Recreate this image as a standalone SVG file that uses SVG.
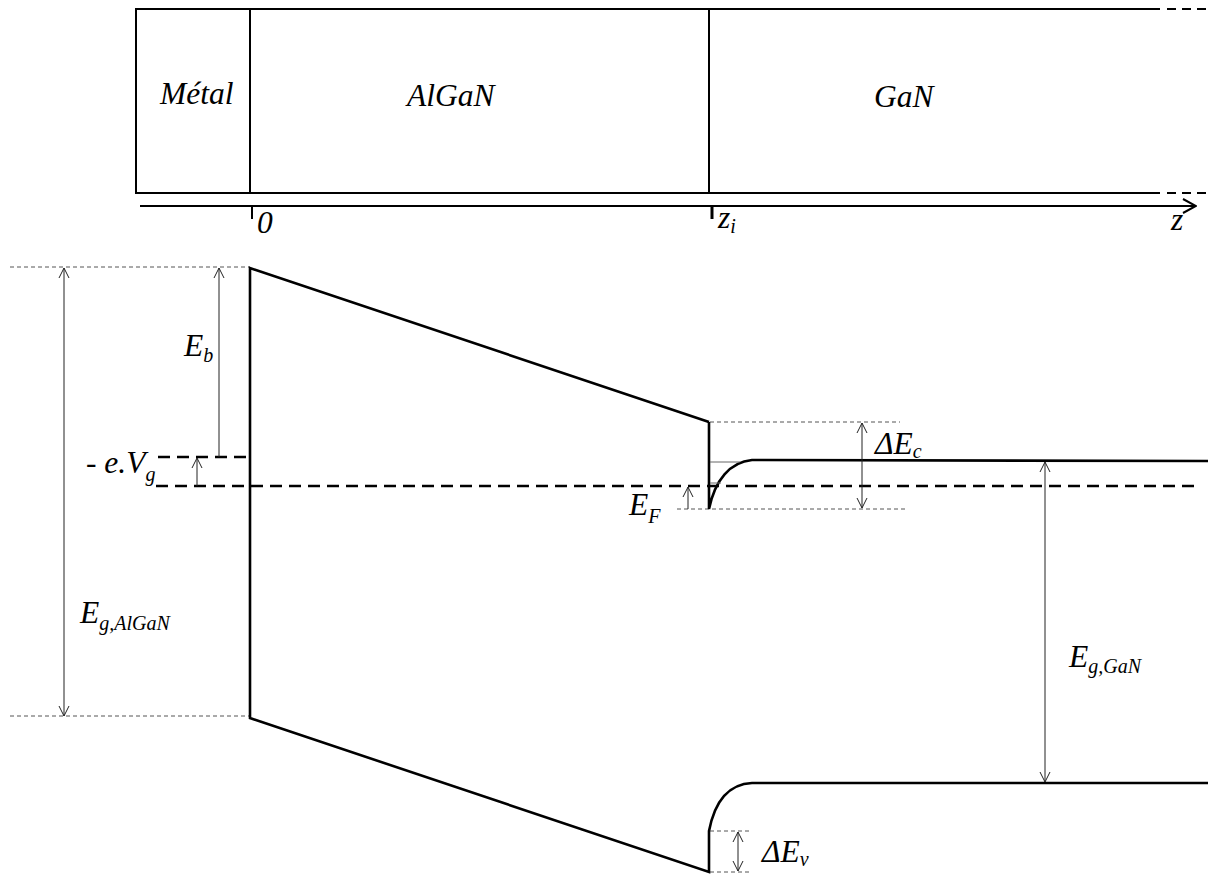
<svg xmlns="http://www.w3.org/2000/svg" width="1208" height="874" viewBox="0 0 1208 874">
<style>
.t{font-family:"Liberation Serif","Times New Roman",serif;font-style:italic;fill:#000}
.big{font-size:31.5px}
.sub{font-size:20px}
.frame{stroke:#000;stroke-width:2;fill:none}
.band{stroke:#000;stroke-width:2.6;fill:none;stroke-linejoin:miter}
.fermi{stroke:#000;stroke-width:2.6;fill:none;stroke-dasharray:12 7}
.dot{stroke:#555;stroke-width:1;fill:none;stroke-dasharray:4 3}
.dim{stroke:#222;stroke-width:1;fill:none}
.lvl{stroke:#666;stroke-width:1;fill:none}
</style>
<defs>
<marker id="ah" viewBox="0 0 12 12" refX="11" refY="6" markerWidth="12" markerHeight="12" markerUnits="userSpaceOnUse" orient="auto-start-reverse">
<path d="M1,1 L11,6 L1,11" fill="none" stroke="#222" stroke-width="1"/>
</marker>
<marker id="ax" viewBox="0 0 16 16" refX="15" refY="8" markerWidth="16" markerHeight="16" markerUnits="userSpaceOnUse" orient="auto">
<path d="M2,1 L15,8 L2,15" fill="none" stroke="#000" stroke-width="2"/>
</marker>
</defs>
<rect width="1208" height="874" fill="#fff"/>

<g id="structure">
<path class="frame" d="M1160,9 L136,9 L136,193 L1160,193"/>
<path class="frame" d="M1167,9 L1208,9 M1167,193 L1208,193" stroke-dasharray="9 6"/>
<line class="frame" x1="250" y1="9" x2="250" y2="193"/>
<line class="frame" x1="709" y1="9" x2="709" y2="193"/>
<text class="t big" x="160" y="104">Métal</text>
<text class="t big" x="407" y="106">AlGaN</text>
<text class="t big" x="874" y="107">GaN</text>
</g>

<g id="axis">
<line x1="140" y1="206" x2="1196" y2="206" stroke="#000" stroke-width="2" marker-end="url(#ax)"/>
<line x1="252" y1="206" x2="252" y2="219" stroke="#000" stroke-width="2"/>
<line x1="712" y1="206" x2="712" y2="219" stroke="#000" stroke-width="3"/>
<text class="t big" x="257" y="233">0</text>
<text class="t big" x="718" y="228">z<tspan class="sub" dy="5">i</tspan></text>
<text class="t big" x="1171" y="230">z</text>
</g>

<g id="guides">
<line class="dot" x1="10" y1="267" x2="250" y2="267"/>
<line class="dot" x1="10" y1="716" x2="250" y2="716"/>
<line class="dot" x1="710" y1="422" x2="900" y2="422"/>
<line class="dot" x1="677" y1="509" x2="905" y2="509"/>
<line class="dot" x1="710" y1="831" x2="750" y2="831"/>
<line class="dot" x1="710" y1="872" x2="750" y2="872"/>
</g>

<g id="bands">
<path class="band" d="M709,422 L250,268 L250,718 L709,872 L709,831 C715,800 730,784 752,783 L1208,783"/>
<path class="band" d="M709,422 L709,509 C715,480 730,462 752,460 L1208,461"/>
<line class="lvl" x1="710" y1="462" x2="740" y2="462"/>
<line class="lvl" x1="710" y1="483" x2="721" y2="483"/>
<line class="fermi" x1="158" y1="457" x2="250" y2="457"/>
<line class="fermi" x1="156" y1="486" x2="1195" y2="486"/>
</g>

<g id="connectors">
<line class="dim" x1="64" y1="268" x2="64" y2="716" marker-start="url(#ah)" marker-end="url(#ah)"/>
<line class="dim" x1="219" y1="457" x2="219" y2="268" marker-end="url(#ah)"/>
<line class="dim" x1="197" y1="486" x2="197" y2="458" marker-end="url(#ah)"/>
<line class="dim" x1="688" y1="509" x2="688" y2="487" marker-end="url(#ah)"/>
<line class="dim" x1="862" y1="423" x2="862" y2="508" marker-start="url(#ah)" marker-end="url(#ah)"/>
<line class="dim" x1="1045" y1="462" x2="1045" y2="782" marker-start="url(#ah)" marker-end="url(#ah)"/>
<line class="dim" x1="738" y1="832" x2="738" y2="871" marker-start="url(#ah)" marker-end="url(#ah)"/>
</g>

<g id="labels">
<text class="t big" x="184" y="356">E<tspan class="sub" dy="6">b</tspan></text>
<text class="t big" x="86" y="473">- e.V<tspan class="sub" dy="8">g</tspan></text>
<text class="t big" x="80" y="623">E<tspan class="sub" dy="7">g,AlGaN</tspan></text>
<text class="t big" x="629" y="515">E<tspan class="sub" dy="8">F</tspan></text>
<text class="t big" x="875" y="454">ΔE<tspan class="sub" dy="4">c</tspan></text>
<text class="t big" x="1069" y="667">E<tspan class="sub" dy="6">g,GaN</tspan></text>
<text class="t big" x="762" y="862">ΔE<tspan class="sub" dy="4">v</tspan></text>
</g>
</svg>
